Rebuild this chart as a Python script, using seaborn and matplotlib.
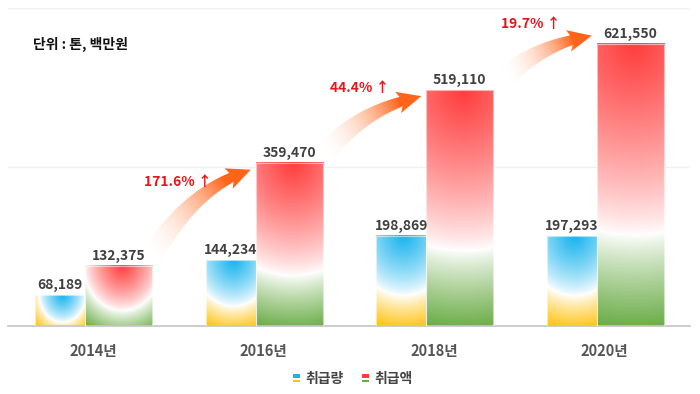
import matplotlib
matplotlib.use("Agg")
import matplotlib.pyplot as plt
from matplotlib.patches import Polygon, Rectangle
from matplotlib.transforms import IdentityTransform
from matplotlib.legend_handler import HandlerBase
from matplotlib.colors import to_rgb
import seaborn as sns
import pandas as pd
import numpy as np

# ---- data ----
years = ["2014년", "2016년", "2018년", "2020년"]
series = ["취급량", "취급액"]
volume = [68189, 144234, 198869, 197293]      # 톤
amount = [132375, 359470, 519110, 621550]     # 백만원

# colours (top, bottom) of each series' gradient
grad_colors = {"취급량": ("#16b3ee", "#ffc20e"), "취급액": ("#ff3c3c", "#6aac46")}

sns.set_theme(style="white")
plt.rcParams["font.family"] = ["Noto Sans CJK KR", "DejaVu Sans"]

df = pd.DataFrame({
    "연도": years * 2,
    "구분": [series[0]] * 4 + [series[1]] * 4,
    "값": volume + amount,
})

W, H = 700, 394
fig = plt.figure(figsize=(W / 100, H / 100), dpi=100)
fig.patch.set_facecolor("white")
ax = fig.add_axes([8 / W, 1 - 326 / H, 682 / W, 318 / H])

sns.barplot(data=df, x="연도", y="값", hue="구분", order=years, hue_order=series,
            palette=["#16b3ee", "#ff3c3c"], width=0.69, legend=False, ax=ax)

YMAX = 700000


def reset_limits():
    ax.set_xlim(-0.5, 3.5)
    ax.set_ylim(0, YMAX)
    ax.set_aspect("auto")


reset_limits()
ax.set_yticks([350000, 700000])
ax.set_yticklabels([])
ax.tick_params(axis="y", length=0)
ax.grid(axis="y", color="#f0f0f0", lw=1)
ax.set_axisbelow(True)
for s in ["left", "right", "top"]:
    ax.spines[s].set_visible(False)
ax.spines["bottom"].set_color("#c4c4c4")
ax.spines["bottom"].set_linewidth(1.2)
ax.set_xlabel("")
ax.set_ylabel("")
ax.tick_params(axis="x", length=0, pad=12)
for lab in ax.get_xticklabels():
    lab.set_fontsize(10.5)
    lab.set_fontweight("bold")
    lab.set_color("#555555")

px_x = 682 / 4.0          # pixels per category
px_y = 318 / YMAX         # pixels per unit


def bar_gradient(w_px, h_px, top, bottom, kb, cb):
    nx, ny = max(int(round(w_px)), 2), max(int(round(h_px)), 2)
    x = np.arange(nx) + 0.5 - 0.55 * w_px
    y = np.arange(ny) + 0.5
    X, Y = np.meshgrid(x, y)
    b = kb * h_px + cb
    a = 0.85 * b
    d = np.sqrt((X / a) ** 2 + (Y / b) ** 2)
    wt = np.clip(1 - d, 0, 1) ** 0.8
    dmax = d.max()
    if dmax > 1:
        wb = np.clip((d - 1) / (dmax - 1), 0, 1) ** 0.85
    else:
        wb = np.zeros_like(d)
    top = np.array(to_rgb(top))
    bottom = np.array(to_rgb(bottom))
    img = (1 - wt - wb)[..., None] * 1.0 + wt[..., None] * top + wb[..., None] * bottom
    return np.clip(img, 0, 1)


red_geom = {}
for p in list(ax.patches):
    h = p.get_height()
    cx = p.get_x() + p.get_width() / 2
    g = int(round(cx))
    if cx < g:
        x0, x1 = g - 0.34, g - 0.047
        key, kb, cb = series[0], 0.55, 10
    else:
        x0, x1 = g - 0.047, g + 0.346
        key, kb, cb = series[1], 0.66, 5
        red_geom[g] = (x0, x1, h)
    p.set_x(x0)
    p.set_width(x1 - x0)
    p.set_facecolor("none")
    p.set_edgecolor((1, 1, 1, 0.55))
    p.set_linewidth(0.8)
    p.set_zorder(3)
    img = bar_gradient((x1 - x0) * px_x, h * px_y, *grad_colors[key], kb, cb)
    ax.imshow(img, extent=(x0, x1, 0, h), origin="upper", aspect="auto",
              interpolation="bilinear", zorder=2)
    ax.annotate(f"{int(h):,}", xy=((x0 + x1) / 2, h), xytext=(0, 3),
                textcoords="offset pixels", ha="center", va="bottom",
                fontsize=10, fontweight="bold", color="#404040", zorder=5)

reset_limits()

# ---- growth arrows ----
tail_off = [(0, 10), (2, 10), (13, 14)]
tip_dy = [-7, -6, 8]
label_off = [(-73, -12), (-62, 8), (-61, 12)]
orange = np.array(to_rgb("#ff641a"))
pale = np.array(to_rgb("#ffb48c"))


def draw_arrow(p0, p2):
    dvec = p2 - p0
    p1 = p0 + np.array([0.4 * dvec[0], 0.78 * dvec[1]])
    tt = np.linspace(0, 1, 600)
    pts = ((1 - tt) ** 2)[:, None] * p0 + (2 * (1 - tt) * tt)[:, None] * p1 + (tt ** 2)[:, None] * p2
    seg = np.r_[0, np.cumsum(np.hypot(*np.diff(pts, axis=0).T))]
    L = seg[-1]
    head_len = 21
    ie = np.searchsorted(seg, L - head_len)
    idx = np.linspace(0, ie, 70).astype(int)
    P = pts[idx]
    tang = np.gradient(P, axis=0)
    tang /= np.linalg.norm(tang, axis=1)[:, None]
    nrm = np.c_[-tang[:, 1], tang[:, 0]]
    f = np.linspace(0, 1, len(P))
    wid = 22 - 12 * f
    Lp = P + nrm * (wid / 2)[:, None]
    Rp = P - nrm * (wid / 2)[:, None]
    B = P[-1]
    u = (p2 - B) / np.linalg.norm(p2 - B)
    n = np.array([-u[1], u[0]])
    outline = np.vstack([Lp, [B + n * 11 - u * 3, p2, B - n * 11 - u * 3], Rp[::-1]])

    xmin, ymin = np.floor(outline.min(axis=0)) - 1
    xmax, ymax = np.ceil(outline.max(axis=0)) + 1
    gx = np.arange(xmin, xmax) + 0.5
    gy = np.arange(ymin, ymax) + 0.5
    GX, GY = np.meshgrid(gx, gy)
    fr = ((GX - p0[0]) * dvec[0] + (GY - p0[1]) * dvec[1]) / (dvec @ dvec)
    fr = np.clip(fr / 0.8, 0, 1)
    alpha = fr ** 1.5
    rgb = pale[None, None, :] * (1 - fr[..., None]) + orange[None, None, :] * fr[..., None]
    rgba = np.dstack([rgb, alpha])

    inv = ax.transData.inverted()
    (dx0, dy0), (dx1, dy1) = inv.transform([(xmin, ymin), (xmax, ymax)])
    im = ax.imshow(rgba, extent=(dx0, dx1, dy0, dy1), origin="lower", aspect="auto",
                   interpolation="bilinear", zorder=4)
    im.set_clip_path(Polygon(outline, closed=True, transform=IdentityTransform()))


for i in range(3):
    x0a, x1a, ha_ = red_geom[i]
    x0b, x1b, hb = red_geom[i + 1]
    p0 = ax.transData.transform((x1a, ha_)) + np.array(tail_off[i])
    p2 = ax.transData.transform((x0b, hb)) + np.array([-5, tip_dy[i]])
    draw_arrow(p0, p2)
    reset_limits()
    pct = (hb - ha_) / ha_ * 100
    lx, ly = p2 + np.array(label_off[i])
    fig.text(lx / W, ly / H, f"{pct:.1f}% ↑", ha="center", va="center",
             fontsize=10, fontweight="bold", color="#e8141c")

reset_limits()

fig.text(33 / W, 1 - 44 / H, "단위 : 톤, 백만원", ha="left", va="center",
         fontsize=10, fontweight="bold", color="#111111")


# ---- legend with gradient icons ----
class GradIcon:
    def __init__(self, top, bottom):
        self.top, self.bottom = top, bottom


class GradIconHandler(HandlerBase):
    def create_artists(self, legend, orig, xdescent, ydescent, width, height, fontsize, trans):
        x0, y0 = -xdescent, -ydescent
        r1 = Rectangle((x0, y0 + height * 0.5), width, height * 0.5, facecolor=orig.top,
                       edgecolor="none", transform=trans)
        r2 = Rectangle((x0, y0), width, height * 0.3, facecolor=orig.bottom,
                       edgecolor="none", transform=trans)
        return [r1, r2]


handles = [GradIcon(*grad_colors[s]) for s in series]
fig.legend(handles, series, handler_map={GradIcon: GradIconHandler()},
           loc="center", bbox_to_anchor=(353 / W, 1 - 379 / H), ncol=2, frameon=False,
           handlelength=0.5, handleheight=0.55, handletextpad=0.4, columnspacing=1.3,
           prop={"size": 10, "weight": "bold"}, labelcolor="#444444")

fig.savefig("out.png", dpi=100, facecolor="white")
